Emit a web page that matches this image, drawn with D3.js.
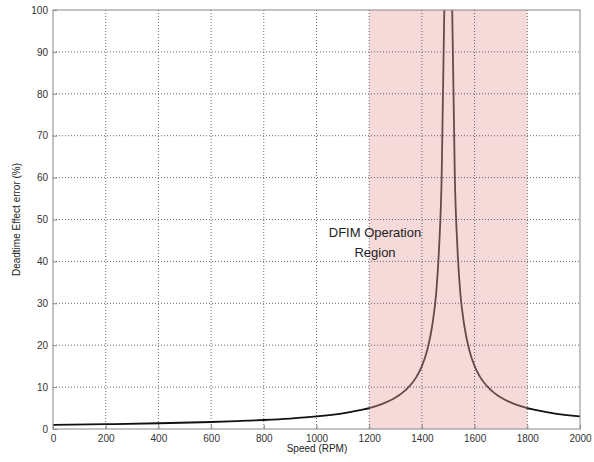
<!DOCTYPE html>
<html><head><meta charset="utf-8">
<script src="https://cdn.jsdelivr.net/npm/d3@7"></script>
<style>body{margin:0;background:#fff}svg{display:block}text{font-family:"Liberation Sans",Arial,sans-serif}</style>
</head><body>
<svg id="c" width="594" height="462"></svg>
<script>
const xTicks = [0,200,400,600,800,1000,1200,1400,1600,1800,2000];
const yTicks = [0,10,20,30,40,50,60,70,80,90,100];
const regionRange = [1200, 1800];
const leftSpeed = [0,200,400,600,700,800,900,1000,1100,1150,1200,1250,1300,1340,1380,1400,1420,1440,1455,1465,1475,1485];
const leftError = [1.0,1.15,1.37,1.67,1.9,2.15,2.5,3.0,3.75,4.3,5.0,6.0,7.5,9.4,12.5,15,18.8,25,33,43,60,100];
const rightSpeed = [1515,1525,1535,1545,1560,1580,1600,1620,1660,1700,1750,1800,1850,1900,2000];
const rightError = [100,60,43,33,25,18.8,15,12.5,9.4,7.5,6.0,5.0,4.3,3.75,3.0];

const svg = d3.select("#c");
const m = {l:53, r:580, t:10, b:429};
const x = d3.scaleLinear().domain([0,2000]).range([m.l,m.r]);
const y = d3.scaleLinear().domain([0,100]).range([m.b,m.t]);

svg.append("defs").append("clipPath").attr("id","pc")
  .append("rect").attr("x",m.l).attr("y",m.t).attr("width",m.r-m.l).attr("height",m.b-m.t);

// curve
const line = d3.line().x(d=>x(d[0])).y(d=>y(d[1])).curve(d3.curveMonotoneX);
const g = svg.append("g").attr("clip-path","url(#pc)");
[[leftSpeed,leftError],[rightSpeed,rightError]].forEach(([s,e])=>{
  g.append("path").datum(s.map((v,i)=>[v,e[i]]))
    .attr("d",line).attr("fill","none").attr("stroke","#111").attr("stroke-width",1.8);
});

// shaded region
svg.append("rect").attr("x",x(regionRange[0])).attr("y",m.t)
  .attr("width",x(regionRange[1])-x(regionRange[0])).attr("height",m.b-m.t)
  .attr("fill","#e8a0a0").attr("fill-opacity",0.4);

// grid
xTicks.slice(1,-1).forEach(t=>{
  svg.append("line").attr("x1",x(t)).attr("x2",x(t)).attr("y1",m.t).attr("y2",m.b)
    .attr("stroke","#444").attr("stroke-width",0.8).attr("stroke-dasharray","1,2");
});
yTicks.slice(1,-1).forEach(t=>{
  svg.append("line").attr("x1",m.l).attr("x2",m.r).attr("y1",y(t)).attr("y2",y(t))
    .attr("stroke","#444").attr("stroke-width",0.8).attr("stroke-dasharray","1,2");
});

// frame
svg.append("rect").attr("x",m.l).attr("y",m.t).attr("width",m.r-m.l).attr("height",m.b-m.t)
  .attr("fill","none").attr("stroke","#888").attr("stroke-width",1);

// axes
const xa = svg.append("g").attr("transform",`translate(0,${m.b})`)
  .call(d3.axisBottom(x).tickValues(xTicks).tickFormat(d3.format("d")).tickSize(-4).tickPadding(6));
const ya = svg.append("g").attr("transform",`translate(${m.l},0)`)
  .call(d3.axisLeft(y).tickValues(yTicks).tickFormat(d3.format("d")).tickSize(-4).tickPadding(5));
[xa,ya].forEach(a=>{
  a.select(".domain").remove();
  a.selectAll("line").attr("stroke","#888");
  a.selectAll("text").attr("font-size",10).attr("fill","#333").style("font-family","'Liberation Sans',Arial,sans-serif");
});

// labels
svg.append("text").attr("x",317).attr("y",452).attr("text-anchor","middle")
  .attr("font-size",10).attr("fill","#222").text("Speed (RPM)");
svg.append("text").attr("transform",`translate(20,${(m.t+m.b)/2}) rotate(-90)`).attr("text-anchor","middle")
  .attr("font-size",10).attr("fill","#222").text("Deadtime Effect error (%)");
const ann = svg.append("text").attr("text-anchor","middle").attr("font-size",13).attr("fill","#222");
ann.append("tspan").attr("x",375).attr("y",237).text("DFIM Operation");
ann.append("tspan").attr("x",375).attr("y",257).text("Region");
</script>
</body></html>
